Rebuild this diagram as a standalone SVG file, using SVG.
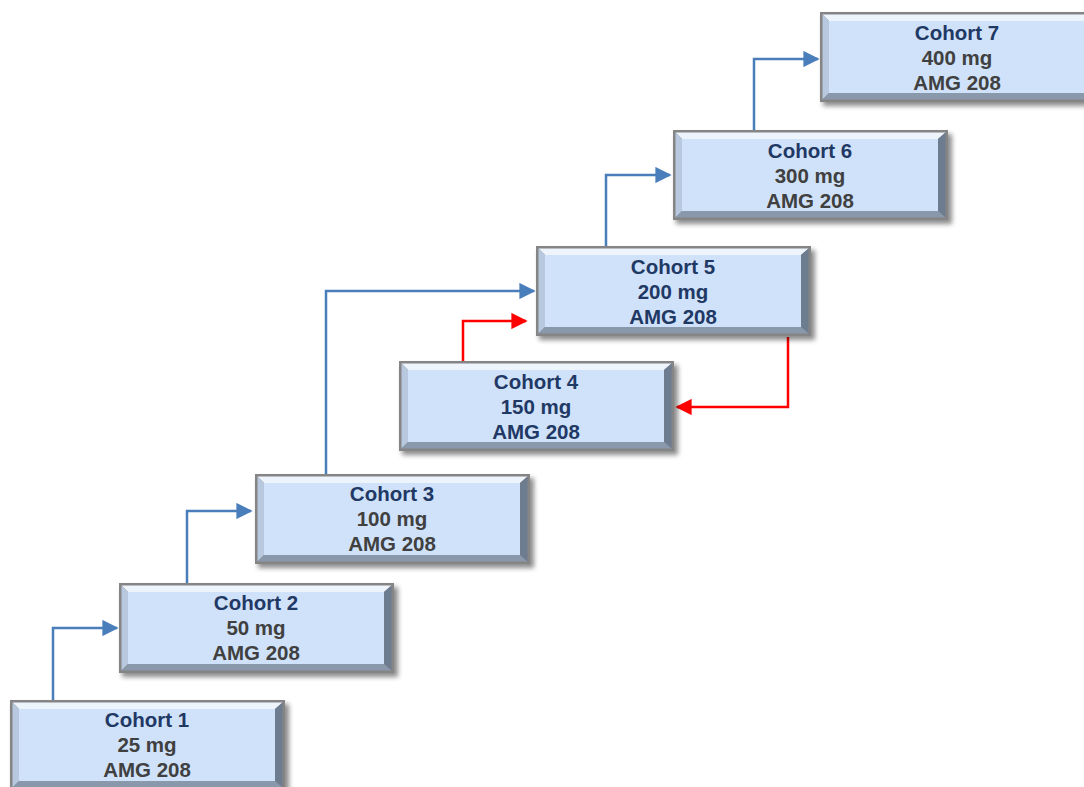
<svg xmlns="http://www.w3.org/2000/svg" xmlns:xlink="http://www.w3.org/1999/xlink" width="1084" height="787" viewBox="0 0 1084 787">
<style>
text{font-family:"Liberation Sans",Arial,sans-serif;font-weight:bold;font-size:20.5px;text-anchor:middle}
.t{fill:#1F3864}
.d{fill:#404040}
.blue{fill:none;stroke:#4A7EBB;stroke-width:2.5}
.red{fill:none;stroke:#FF0000;stroke-width:2.5}
</style>
<defs>
<filter id="sh" x="-10%" y="-20%" width="130%" height="150%"><feGaussianBlur stdDeviation="2.5"/></filter>
<marker id="ab" viewBox="0 0 10 10" refX="9" refY="5" markerWidth="7" markerHeight="6.5" orient="auto" markerUnits="strokeWidth"><path d="M0,0 L10,5 L0,10 Z" fill="#4A7EBB"/></marker>
<marker id="ar" viewBox="0 0 10 10" refX="9" refY="5" markerWidth="7" markerHeight="6.5" orient="auto" markerUnits="strokeWidth"><path d="M0,0 L10,5 L0,10 Z" fill="#FF0000"/></marker>
<g id="box">
<rect x="3" y="4" width="276" height="90" fill="#000" opacity="0.45" filter="url(#sh)"/>
<rect x="0" y="0" width="275" height="90" fill="#858585"/>
<polygon points="2.5,2.5 272.5,2.5 265,9 9,9" fill="#EEF4FC"/>
<polygon points="2.5,2.5 9,9 9,81 2.5,87.5" fill="#B8C8DE"/>
<polygon points="272.5,2.5 272.5,87.5 265,81 265,9" fill="#6E7C90"/>
<polygon points="2.5,87.5 9,81 265,81 272.5,87.5" fill="#8A98AC"/>
<rect x="9" y="9" width="256" height="72" fill="#CFE2FA"/>
</g>
</defs>
<rect width="1084" height="787" fill="#fff"/>
<g id="connectors">
<path class="blue" d="M53,700 V628 H117" marker-end="url(#ab)"/>
<path class="blue" d="M187,583 V511 H251" marker-end="url(#ab)"/>
<path class="blue" d="M326,474 V291 H534" marker-end="url(#ab)"/>
<path class="red" d="M463,361 V321 H526" marker-end="url(#ar)"/>
<path class="red" d="M788,337 V407 H677" marker-end="url(#ar)"/>
<path class="blue" d="M606,246 V175 H670" marker-end="url(#ab)"/>
<path class="blue" d="M754,130 V59 H818" marker-end="url(#ab)"/>
</g>
<g id="cohort1"><use xlink:href="#box" x="10" y="700"/><text class="t" x="147" y="727">Cohort 1</text><text class="d" x="147" y="752">25 mg</text><text class="d" x="147" y="777">AMG 208</text></g>
<g id="cohort2"><use xlink:href="#box" x="119" y="583"/><text class="t" x="256" y="610">Cohort 2</text><text class="d" x="256" y="635">50 mg</text><text class="d" x="256" y="660">AMG 208</text></g>
<g id="cohort3"><use xlink:href="#box" x="255" y="474"/><text class="t" x="392" y="501">Cohort 3</text><text class="d" x="392" y="526">100 mg</text><text class="d" x="392" y="551">AMG 208</text></g>
<g id="cohort4"><use xlink:href="#box" x="399" y="361"/><text class="t" x="536" y="389">Cohort 4</text><text class="t" x="536" y="414">150 mg</text><text class="t" x="536" y="439">AMG 208</text></g>
<g id="cohort5"><use xlink:href="#box" x="536" y="246"/><text class="t" x="673" y="274">Cohort 5</text><text class="t" x="673" y="299">200 mg</text><text class="t" x="673" y="324">AMG 208</text></g>
<g id="cohort6"><use xlink:href="#box" x="673" y="130"/><text class="t" x="810" y="158">Cohort 6</text><text class="d" x="810" y="183">300 mg</text><text class="d" x="810" y="208">AMG 208</text></g>
<g id="cohort7"><use xlink:href="#box" x="820" y="12"/><text class="t" x="957" y="40">Cohort 7</text><text class="d" x="957" y="65">400 mg</text><text class="d" x="957" y="90">AMG 208</text></g>
</svg>
